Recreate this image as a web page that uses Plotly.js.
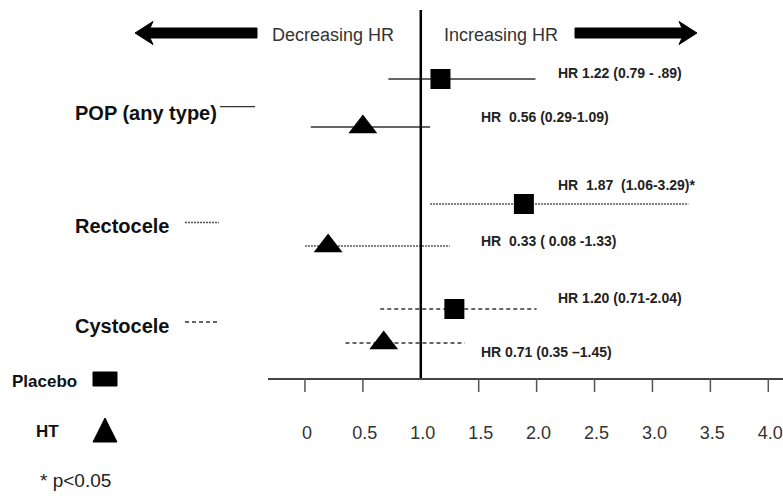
<!DOCTYPE html>
<html>
<head>
<meta charset="utf-8">
<script src="https://cdn.plot.ly/plotly-3.0.1.min.js"></script>
<style>html,body{margin:0;padding:0;background:#fff;}#chart{width:783px;height:497px;}</style>
</head>
<body>
<div id="chart"></div>
<script>
// ---------- data ----------
const categories = ['POP (any type)', 'Rectocele', 'Cystocele'];
const placeboHR = [1.17, 1.89, 1.29];
const placeboLo = [0.72, 1.08, 0.65];
const placeboHi = [1.99, 3.31, 2.00];
const htHR = [0.50, 0.20, 0.68];
const htLo = [0.05, 0.00, 0.35];
const htHi = [1.08, 1.25, 1.38];
const placeboLabels = ['HR 1.22 (0.79 - .89)', 'HR\u00a0 1.87\u00a0 (1.06-3.29)*', 'HR 1.20 (0.71-2.04)'];
const htLabels = ['HR\u00a0 0.56 (0.29-1.09)', 'HR\u00a0 0.33 ( 0.08 -1.33)', 'HR 0.71 (0.35 \u20131.45)'];
const tickVals = [0, 0.5, 1, 1.5, 2, 2.5, 3, 3.5, 4];
const tickText = ['0', '0.5', '1.0', '1.5', '2.0', '2.5', '3.0', '3.5', '4.0'];
const legendNames = ['Placebo', 'HT'];
const noteText = '* p<0.05';

// ---------- layout positions / styles ----------
const placeboRowY = [0.79, 2.04, 3.09];
const htRowY = [1.27, 2.46, 3.43];
const placeboLabelY = [0.73, 1.85, 2.98];
const htLabelY = [1.17, 2.41, 3.52];
const placeboLabelX = 2.17, htLabelX = 1.50;
const catLabelY = [1.13, 2.257, 3.257];
const catLineY = [1.067, 2.225, 3.22];
const catLineX = [[220, 255], [185, 219], [185, 219]];
const lineStyles = [
  {dash: 'solid', color: '#333', width: 1.5},
  {dash: '2px,1px', color: '#555', width: 1.5},
  {dash: '4px,3px', color: '#333', width: 1.5}
];

const W = 783, H = 497, ML = 268, MT = 0, PW = 515, PH = 378;
const px = x => (x - ML) / PW;
const py = y => 1 - (y - MT) / PH;

const traces = [];
categories.forEach((c, i) => {
  traces.push({x: [placeboLo[i], placeboHi[i]], y: [placeboRowY[i], placeboRowY[i]], mode: 'lines',
    line: lineStyles[i], hoverinfo: 'skip', showlegend: false});
  traces.push({x: [htLo[i], htHi[i]], y: [htRowY[i], htRowY[i]], mode: 'lines',
    line: lineStyles[i], hoverinfo: 'skip', showlegend: false});
});
traces.push({x: placeboHR, y: placeboRowY, mode: 'markers', name: legendNames[0],
  marker: {symbol: 'square', size: 20, color: '#000'}, showlegend: false});
traces.push({x: htHR, y: htRowY, mode: 'markers', name: legendNames[1],
  marker: {symbol: 'triangle-up', size: 25, color: '#000'}, showlegend: false});

const FAM = 'Liberation Sans, Arial, sans-serif';
const annotations = [];
categories.forEach((c, i) => {
  annotations.push({text: '<b>' + placeboLabels[i] + '</b>', xref: 'x', yref: 'y', x: placeboLabelX, y: placeboLabelY[i],
    xanchor: 'left', yanchor: 'middle', showarrow: false, font: {family: FAM, size: 14, color: '#222'}});
  annotations.push({text: '<b>' + htLabels[i] + '</b>', xref: 'x', yref: 'y', x: htLabelX, y: htLabelY[i],
    xanchor: 'left', yanchor: 'middle', showarrow: false, font: {family: FAM, size: 14, color: '#222'}});
  annotations.push({text: '<b>' + c + '</b>', xref: 'paper', yref: 'y', x: px(73), y: catLabelY[i],
    xanchor: 'left', yanchor: 'middle', showarrow: false, font: {family: FAM, size: 20, color: '#111'}});
});
annotations.push({text: 'Decreasing HR', xref: 'paper', yref: 'paper', x: px(270), y: py(35), xanchor: 'left', yanchor: 'middle',
  showarrow: false, font: {family: FAM, size: 18, color: '#333'}});
annotations.push({text: 'Increasing HR', xref: 'paper', yref: 'paper', x: px(442), y: py(35), xanchor: 'left', yanchor: 'middle',
  showarrow: false, font: {family: FAM, size: 18, color: '#333'}});
annotations.push({text: '<b>' + legendNames[0] + '</b>', xref: 'paper', yref: 'paper', x: px(10), y: py(381), xanchor: 'left', yanchor: 'middle',
  showarrow: false, font: {family: FAM, size: 17, color: '#111'}});
annotations.push({text: '<b>' + legendNames[1] + '</b>', xref: 'paper', yref: 'paper', x: px(34), y: py(431), xanchor: 'left', yanchor: 'middle',
  showarrow: false, font: {family: FAM, size: 17, color: '#111'}});
annotations.push({text: noteText, xref: 'paper', yref: 'paper', x: px(38), y: py(480), xanchor: 'left', yanchor: 'middle',
  showarrow: false, font: {family: FAM, size: 19, color: '#222'}});

const pathOf = pts => 'M' + pts.map(p => px(p[0]) + ',' + py(p[1])).join(' L') + ' Z';
const shapes = [];
// vertical reference line at HR = 1
shapes.push({type: 'line', xref: 'x', yref: 'paper', x0: 1, x1: 1, y0: 0, y1: py(10), line: {color: '#000', width: 2.5}});
// tick marks (none at 1.0, where the reference line meets the axis)
tickVals.filter(v => v !== 1).forEach(v => {
  shapes.push({type: 'line', xref: 'x', yref: 'paper', x0: v, x1: v, y0: 0, y1: py(392), line: {color: '#555', width: 1.5}});
});
// direction arrows
shapes.push({type: 'path', xref: 'paper', yref: 'paper', fillcolor: '#000', line: {color: '#000', width: 1},
  path: pathOf([[135, 33], [153, 21.5], [150, 28], [257, 28], [257, 38], [150, 38], [153, 44.5]])});
shapes.push({type: 'path', xref: 'paper', yref: 'paper', fillcolor: '#000', line: {color: '#000', width: 1},
  path: pathOf([[697, 33], [679, 21.5], [682, 28], [575, 28], [575, 38], [682, 38], [679, 44.5]])});
// category leader lines
categories.forEach((c, i) => {
  shapes.push({type: 'line', xref: 'paper', yref: 'y', x0: px(catLineX[i][0]), x1: px(catLineX[i][1]), y0: catLineY[i], y1: catLineY[i],
    line: {color: lineStyles[i].color, width: 1.3, dash: lineStyles[i].dash}});
});
// legend glyphs
shapes.push({type: 'rect', xref: 'paper', yref: 'paper', x0: px(93), x1: px(117), y0: py(386), y1: py(372), fillcolor: '#000', line: {color: '#000', width: 1}});
shapes.push({type: 'path', xref: 'paper', yref: 'paper', fillcolor: '#000', line: {color: '#000', width: 1},
  path: pathOf([[93, 442], [117, 442], [105, 418]])});

const xr = [-0.319, 4.127];
const layout = {
  width: W, height: H,
  margin: {l: ML, r: W - ML - PW, t: MT, b: H - MT - PH},
  paper_bgcolor: '#fff', plot_bgcolor: 'rgba(0,0,0,0)',
  showlegend: false,
  xaxis: {range: xr, tickmode: 'array', tickvals: tickVals, ticktext: tickText, ticks: '',
    showgrid: false, zeroline: false, showline: true, linecolor: '#444', linewidth: 1.5,
    ticklabelstandoff: 38, ticklabelshift: 2,
    tickfont: {family: FAM, size: 18, color: '#333'}, fixedrange: true},
  yaxis: {range: [3.78, 0], visible: false, fixedrange: true},
  shapes: shapes,
  annotations: annotations
};

Plotly.newPlot('chart', traces, layout, {displayModeBar: false, staticPlot: true});
</script>
</body>
</html>
